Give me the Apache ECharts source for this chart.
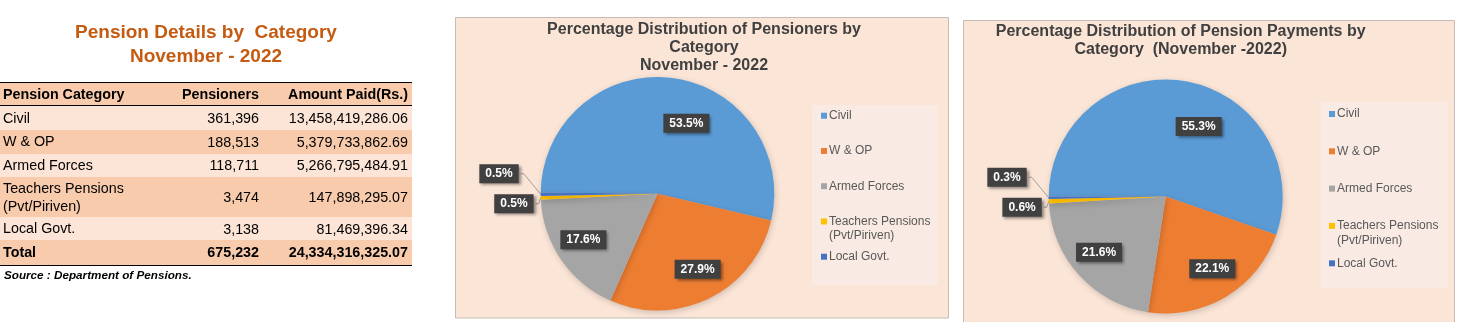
<!DOCTYPE html>
<html>
<head>
<meta charset="utf-8">
<script src="https://cdn.jsdelivr.net/npm/echarts@6/dist/echarts.min.js"></script>
<style>
html,body{margin:0;padding:0;width:1461px;height:322px;overflow:hidden;background:#ffffff;font-family:'Liberation Sans',Arial,sans-serif;}
#chart{position:absolute;left:0;top:0;width:1461px;height:322px;}
#left{position:absolute;left:0;top:0;width:430px;height:322px;z-index:3;}
.ttl{position:absolute;left:0;top:19.6px;width:412px;text-align:center;color:#C55A11;font-weight:bold;font-size:19px;line-height:24.7px;white-space:pre;}
#tbl{position:absolute;left:0;top:81.7px;width:412px;border-top:1.6px solid #000;border-bottom:1.5px solid #000;color:#000;font-size:14.3px;}
.row{display:flex;align-items:center;box-sizing:border-box;}
.row div{box-sizing:border-box;}
.c1{width:170px;padding-left:3px;text-align:left;line-height:18.3px;}
.c2{width:92px;padding-right:3px;text-align:right;}
.c3{width:150px;padding-right:4px;text-align:right;}
.hd{font-weight:bold;background:#F8CBAD;border-bottom:1px solid #000;}
.dk{background:#F8CBAD;}
.lt{background:#FCE4D6;}
.tot{font-weight:bold;}
.src{position:absolute;left:4px;top:268px;font-size:11.7px;font-weight:bold;font-style:italic;color:#000;}
</style>
</head>
<body>
<div id="chart"></div>
<div id="left">
  <div class="ttl" id="ttl"></div>
  <div id="tbl"></div>
  <div class="src" id="src"></div>
</div>
<script>
// ---------------- data ----------------
const tableTitle = 'Pension Details by  Category\nNovember - 2022';
const headers = ['Pension Category', 'Pensioners', 'Amount Paid(Rs.)'];
const categories = ['Civil', 'W & OP', 'Armed Forces', 'Teachers Pensions (Pvt/Piriven)', 'Local Govt.'];
const pensioners = [361396, 188513, 118711, 3474, 3138];
const amountPaid = [13458419286.06, 5379733862.69, 5266795484.91, 147898295.07, 81469396.34];
const totalLabel = 'Total';
const totalPensioners = 675232;
const totalAmount = 24334316325.07;
const sourceText = 'Source : Department of Pensions.';
const pie1Title = 'Percentage Distribution of Pensioners by\nCategory\nNovember - 2022';
const pie2Title = 'Percentage Distribution of Pension Payments by\nCategory  (November -2022)';
const sliceColors = ['#5B9BD5', '#ED7D31', '#A5A5A5', '#FFC000', '#4472C4'];

// ---------------- table (HTML) ----------------
const fmtInt = v => v.toLocaleString('en-US');
const fmtAmt = v => v.toLocaleString('en-US', {minimumFractionDigits: 2, maximumFractionDigits: 2});
const esc = s => s.replace(/&/g, '&amp;').replace(/</g, '&lt;');
document.getElementById('ttl').textContent = tableTitle;
document.getElementById('src').textContent = sourceText;
const rowHeights = [23.6, 23.3, 24, 23.7, 39.6, 23.4, 24.3];
const rowClass = ['lt', 'dk', 'lt', 'dk', 'lt'];
let html = '<div class="row hd" style="height:' + rowHeights[0] + 'px"><div class="c1">' + esc(headers[0]) +
  '</div><div class="c2">' + esc(headers[1]) + '</div><div class="c3">' + esc(headers[2]) + '</div></div>';
categories.forEach((c, i) => {
  html += '<div class="row ' + rowClass[i] + '" style="height:' + rowHeights[i + 1] + 'px"><div class="c1">' +
    esc(c).replace(' (', '<br>(') +
    '</div><div class="c2">' + fmtInt(pensioners[i]) + '</div><div class="c3">' + fmtAmt(amountPaid[i]) + '</div></div>';
});
html += '<div class="row dk tot" style="height:' + rowHeights[6] + 'px"><div class="c1">' + esc(totalLabel) +
  '</div><div class="c2">' + fmtInt(totalPensioners) + '</div><div class="c3">' + fmtAmt(totalAmount) + '</div></div>';
document.getElementById('tbl').innerHTML = html;

// ---------------- charts ----------------
const FONT = "'Liberation Sans', Arial, sans-serif";
const chart = echarts.init(document.getElementById('chart'), null, {renderer: 'canvas'});

const labelBox = {
  color: '#ffffff', fontWeight: 'bold', fontSize: 12, fontFamily: FONT, lineHeight: 15,
  backgroundColor: '#404040', padding: [2, 6, 2, 6],
  shadowColor: 'rgba(0,0,0,0.45)', shadowBlur: 3, shadowOffsetX: 2, shadowOffsetY: 2,
  formatter: p => p.percent.toFixed(1) + '%'
};

function legendFormatter(name) {
  const k = name.indexOf(' (');
  if (k > 0) return '{a|' + name.slice(0, k) + '}\n{b|' + name.slice(k + 1) + '}';
  return '{a|' + name + '}';
}
function makeLegend(names, left, top, gap) {
  return {
    orient: 'vertical', left: left, top: top, itemWidth: 6, itemHeight: 6, icon: 'rect',
    itemGap: gap, padding: 0, selectedMode: false,
    data: names.map(n => ({name: n, itemStyle: {color: sliceColors[categories.indexOf(n)]}})),
    formatter: legendFormatter,
    textStyle: {
      color: '#595959', fontSize: 12, fontFamily: FONT, lineHeight: 15, padding: [0, 0, 0, -3],
      rich: {
        a: {color: '#595959', fontSize: 12, fontFamily: FONT, lineHeight: 15},
        b: {color: '#595959', fontSize: 12, fontFamily: FONT, lineHeight: 0, height: 14, verticalAlign: 'top'}
      }
    }
  };
}
// small outside labels are nudged like the manually placed ones in the original
const smallShift = {3: [0, -11.5], 4: [-13, -20.5]};
function makePies(values, cx, cy, r, startAngle) {
  const visible = {
    type: 'pie', center: [cx, cy], radius: r, startAngle: startAngle, clockwise: true,
    avoidLabelOverlap: true, animation: false, silent: true,
    itemStyle: {borderWidth: 0, shadowBlur: 6, shadowColor: 'rgba(0,0,0,0.18)', shadowOffsetX: 1, shadowOffsetY: 2},
    label: Object.assign({position: 'outside', distanceToLabelLine: 2}, labelBox),
    labelLine: {length: 6, length2: 3, lineStyle: {color: '#8c8c8c', width: 0.8}},
    labelLayout: p => {
      const sh = smallShift[p.dataIndex];
      if (!sh) return {};
      const out = {dx: sh[0], dy: sh[1]};
      const pts = p.labelLinePoints;
      if (pts && pts.length >= 3) {
        const end = [pts[2][0] + sh[0], pts[2][1] + sh[1]];
        out.labelLinePoints = [[pts[0][0], pts[0][1]], [end[0] + 3, end[1]], end];
      }
      return out;
    },
    data: categories.map((n, i) => ({
      name: n, value: values[i], itemStyle: {color: sliceColors[i]},
      label: {show: i >= 3}, labelLine: {show: i >= 3}
    }))
  };
  const ring = {
    type: 'pie', center: [cx, cy], radius: [r * 0.49, r], startAngle: startAngle, clockwise: true,
    animation: false, silent: true, legendHoverLink: false,
    itemStyle: {color: 'rgba(0,0,0,0)', borderWidth: 0},
    label: Object.assign({position: 'inside'}, labelBox),
    labelLine: {show: false},
    labelLayout: p => (p.dataIndex === 0 ? {dx: 18, dy: 19} : {dy: -5}),
    data: categories.map((n, i) => ({name: n, value: values[i], label: {show: i < 3}}))
  };
  return [visible, ring];
}

const panelStyle = {fill: '#FBE5D7', stroke: '#C8BAB4', lineWidth: 1};
const legendBg = {fill: '#F9EBE3'};
const mainNames = categories.slice(0, 4);
const lastNames = categories.slice(4);
const option = {
  backgroundColor: 'transparent',
  color: sliceColors,
  graphic: [
    {type: 'rect', z: -10, shape: {x: 455.5, y: 17.5, width: 493, height: 300.5}, style: panelStyle, silent: true},
    {type: 'rect', z: -10, shape: {x: 963.5, y: 20.5, width: 491, height: 320}, style: panelStyle, silent: true},
    {type: 'rect', z: -9, shape: {x: 812, y: 105, width: 126, height: 180}, style: legendBg, silent: true},
    {type: 'rect', z: -9, shape: {x: 1320.7, y: 101.7, width: 127, height: 186.3}, style: legendBg, silent: true}
  ],
  title: [
    {text: pie1Title, left: 704, top: 20.2, padding: 0, textAlign: 'center', textVerticalAlign: 'top',
      textStyle: {fontSize: 16, fontWeight: 'bold', color: '#404040', lineHeight: 18.3, fontFamily: FONT}},
    {text: pie2Title, left: 1180.7, top: 22.9, padding: 0, textAlign: 'center', textVerticalAlign: 'top',
      textStyle: {fontSize: 16, fontWeight: 'bold', color: '#404040', lineHeight: 17.6, fontFamily: FONT}}
  ],
  legend: [
    makeLegend(mainNames, 821, 108.2, 20.25),
    makeLegend(lastNames, 821, 249.2, 20.25),
    makeLegend(mainNames, 1329, 106.5, 22.3),
    makeLegend(lastNames, 1329, 255.8, 22.3)
  ],
  series: [].concat(
    makePies(pensioners, 657.5, 193.7, 116.8, 179.4),
    makePies(amountPaid, 1165.7, 196.5, 117, 180)
  )
};
chart.setOption(option);
</script>
</body>
</html>
